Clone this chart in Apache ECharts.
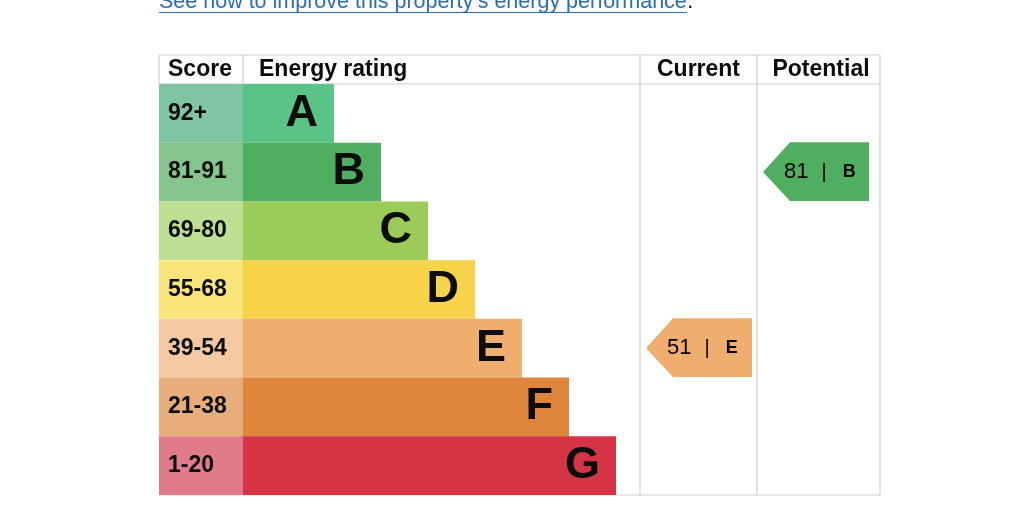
<!DOCTYPE html>
<html><head><meta charset="utf-8">
<script src="https://cdn.jsdelivr.net/npm/echarts@6/dist/echarts.min.js"></script>
<style>html,body{margin:0;padding:0;background:#fff}#c{width:1024px;height:522px}</style>
</head><body><div id="c"></div>
<script>
// ---- data ----
const ratings = ['A', 'B', 'C', 'D', 'E', 'F', 'G'];
const scoreRanges = ['92+', '81-91', '69-80', '55-68', '39-54', '21-38', '1-20'];
const scoreMins = [92, 81, 69, 55, 39, 21, 1];
const barSteps = [2, 3, 4, 5, 6, 7, 8];
const columns = ['Current', 'Potential'];
const headers = ['Score', 'Energy rating', 'Current', 'Potential'];
const currentScore = 51;
const potentialScore = 81;
const linkText = 'See how to improve this property\u2019s energy performance';

// ---- styles ----
const barColors = ['#5ac486', '#4fae60', '#9bcb59', '#f6d349', '#efad6e', '#df843b', '#d43443'];
const scoreColors = ['#7ec5a4', '#84c68e', '#bfdf93', '#fae57b', '#f5c9a1', '#e8ad7b', '#e17a8a'];
const FONT = '"Liberation Sans", Arial, Helvetica, sans-serif';
const INK = '#0b0c0c';
const LINE = '#cfcfcf';
const LINK_FS = 21.5;

function ratingIndexFor(score) {
  for (let i = 0; i < scoreMins.length; i++) if (score >= scoreMins[i]) return i;
  return scoreMins.length - 1;
}

const chart = echarts.init(document.getElementById('c'), null, { renderer: 'canvas' });

// measure link text width for underline
const mctx = document.createElement('canvas').getContext('2d');
mctx.font = LINK_FS + 'px ' + FONT;
const linkW = mctx.measureText(linkText).width;

const T = 55, H = 84, B = 495, L = 159, R = 880;
const lines = [
  [L, T, R, T], [L, H, R, H], [L, B, R, B], [L, T, L, H], [R, T, R, B],
  [243, T, 243, H], [640, T, 640, B], [757, T, 757, B]
].map(p => ({
  type: 'line', z: 1, shape: { x1: p[0], y1: p[1], x2: p[2], y2: p[3] },
  style: { stroke: LINE, lineWidth: 1.2 }
}));

const headerPos = [[168, 'left'], [259, 'left'], [698.5, 'center'], [821, 'center']];
const headerTexts = headers.map((h, i) => ({
  type: 'text', z: 10, x: headerPos[i][0], y: 70,
  style: { text: h, font: 'bold 23px ' + FONT, fill: INK, align: headerPos[i][1], verticalAlign: 'middle' }
}));

const rowsY = { top: H, bottom: 522 - B };
const arrowData = [
  [0, ratingIndexFor(currentScore), currentScore],
  [1, ratingIndexFor(potentialScore), potentialScore]
];

chart.setOption({
  animation: false,
  grid: [
    { left: L, width: 84, top: rowsY.top, bottom: rowsY.bottom },
    { left: 240, width: 8 * 47, top: rowsY.top, bottom: rowsY.bottom },
    { left: 640, width: 234, top: rowsY.top, bottom: rowsY.bottom }
  ],
  xAxis: [
    { gridIndex: 0, type: 'value', min: 0, max: 1, show: false },
    { gridIndex: 1, type: 'value', min: 0, max: 8, show: false },
    { gridIndex: 2, type: 'category', data: columns, show: false }
  ],
  yAxis: [0, 1, 2].map(g => ({ gridIndex: g, type: 'category', data: ratings, inverse: true, show: false })),
  series: [
    {
      type: 'bar', xAxisIndex: 1, yAxisIndex: 1, z: 2, barCategoryGap: '0%',
      data: barSteps.map((v, i) => ({ value: v, itemStyle: { color: barColors[i] } })),
      label: {
        show: true, position: 'insideRight', distance: 16,
        formatter: p => ratings[p.dataIndex],
        fontFamily: FONT, fontWeight: 'bold', fontSize: 45, color: INK
      }
    },
    {
      type: 'bar', xAxisIndex: 0, yAxisIndex: 0, z: 3, barCategoryGap: '0%',
      data: scoreRanges.map((s, i) => ({ value: 1, itemStyle: { color: scoreColors[i] } })),
      label: {
        show: true, position: 'insideLeft', distance: 9,
        formatter: p => scoreRanges[p.dataIndex],
        fontFamily: FONT, fontWeight: 'bold', fontSize: 23, color: INK
      }
    },
    {
      type: 'custom', xAxisIndex: 2, yAxisIndex: 2, z: 4,
      data: arrowData,
      renderItem: function (params, api) {
        const col = api.value(0), row = api.value(1), score = api.value(2);
        const c = api.coord([col, row]);
        const sz = api.size([1, 1]);
        const x0 = c[0] - sz[0] / 2 + 6, x1 = x0 + 106, tip = 27;
        const yT = c[1] - sz[1] / 2 - 0.5, yB = c[1] + sz[1] / 2 - 0.5;
        const r = ratingIndexFor(score);
        return {
          type: 'group',
          children: [
            { type: 'polygon', shape: { points: [[x0, c[1]], [x0 + tip, yT], [x1, yT], [x1, yB], [x0 + tip, yB]] },
              style: { fill: barColors[r] } },
            { type: 'text', x: x0 + 21, y: c[1],
              style: {
                text: '{n|' + score + '}{p||}{r|' + ratings[r] + '}',
                align: 'left', verticalAlign: 'middle',
                rich: {
                  n: { fontFamily: FONT, fontSize: 22, color: INK, padding: [0, 13, 0, 0] },
                  p: { fontFamily: FONT, fontSize: 20, color: INK, padding: [0, 16, 0, 0] },
                  r: { fontFamily: FONT, fontSize: 18, fontWeight: 'bold', color: INK }
                }
              } }
          ]
        };
      }
    }
  ],
  graphic: [
    ...lines,
    ...headerTexts,
    { type: 'text', z: 10, x: L, y: 2.5,
      style: { text: linkText, font: LINK_FS + 'px ' + FONT, fill: '#2a6ebb', align: 'left', verticalAlign: 'middle' } },
    { type: 'line', z: 10, shape: { x1: L, y1: 12.5, x2: L + linkW, y2: 12.5 },
      style: { stroke: '#2a6ebb', lineWidth: 1.2 } },
    { type: 'text', z: 10, x: L + linkW + 0.5, y: 2.5,
      style: { text: '.', font: LINK_FS + 'px ' + FONT, fill: INK, align: 'left', verticalAlign: 'middle' } }
  ]
});
</script>
</body></html>
